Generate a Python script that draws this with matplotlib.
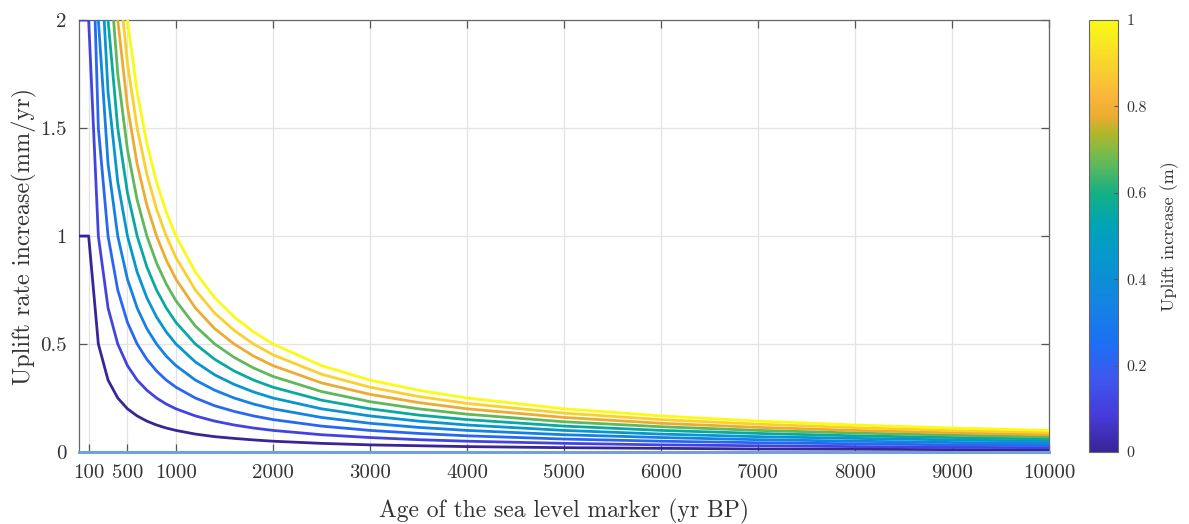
import matplotlib
matplotlib.use('Agg')
import matplotlib.pyplot as plt
from matplotlib.colors import LinearSegmentedColormap
from matplotlib.cm import ScalarMappable
from matplotlib.colors import Normalize

plt.rcParams['font.family'] = ['cmr10', 'DejaVu Serif']
plt.rcParams['axes.formatter.use_mathtext'] = True

# Datos
uplift = [0.1, 0.2, 0.3, 0.4, 0.5, 0.6, 0.7, 0.8, 0.9, 1.0]
ages = [0, 100, 200, 300, 400, 500, 600, 700, 800, 900, 1000, 1200, 1400, 1600, 1800,
        2000, 2500, 3000, 3500, 4000, 5000, 6000, 7000, 8000, 9000, 10000]

rate_01 = [1, 1, .5, .333, .25, .2, .167, .143, .125, .111, .1, .083, .071, .063, .056,
           .05, .04, .033, .029, .025, .02, .017, .014, .013, .011, .01]
rate_02 = [2, 2, 1, .667, .5, .4, .333, .286, .25, .222, .2, .167, .143, .125, .111,
           .1, .08, .067, .057, .05, .04, .033, .029, .025, .022, .02]
rate_03 = [3, 3, 1.5, 1, .75, .6, .5, .429, .375, .333, .3, .25, .214, .188, .167,
           .15, .12, .1, .086, .075, .06, .05, .043, .038, .033, .03]
rate_04 = [4, 4, 2, 1.333, 1, .8, .667, .571, .5, .444, .4, .333, .286, .25, .222,
           .2, .16, .133, .114, .1, .08, .067, .057, .05, .044, .04]
rate_05 = [5, 5, 2.5, 1.667, 1.25, 1, .833, .714, .625, .556, .5, .417, .357, .313, .278,
           .25, .2, .167, .143, .125, .1, .083, .071, .063, .056, .05]
rate_06 = [6, 6, 3, 2, 1.5, 1.2, 1, .857, .75, .667, .6, .5, .429, .375, .333,
           .3, .24, .2, .171, .15, .12, .1, .086, .075, .067, .06]
rate_07 = [7, 7, 3.5, 2.333, 1.75, 1.4, 1.167, 1, .875, .778, .7, .583, .5, .438, .389,
           .35, .28, .233, .2, .175, .14, .117, .1, .088, .078, .07]
rate_08 = [8, 8, 4, 2.667, 2, 1.6, 1.333, 1.143, 1, .889, .8, .667, .571, .5, .444,
           .4, .32, .267, .229, .2, .16, .133, .114, .1, .089, .08]
rate_09 = [9, 9, 4.5, 3, 2.25, 1.8, 1.5, 1.286, 1.125, 1, .9, .75, .643, .563, .5,
           .45, .36, .3, .257, .225, .18, .15, .129, .113, .1, .09]
rate_10 = [10, 10, 5, 3.333, 2.5, 2, 1.667, 1.429, 1.25, 1.111, 1, .833, .714, .625, .556,
           .5, .4, .333, .286, .25, .2, .167, .143, .125, .111, .1]
rates = [rate_01, rate_02, rate_03, rate_04, rate_05, rate_06, rate_07, rate_08, rate_09, rate_10]

xticks = [100, 500, 1000, 2000, 3000, 4000, 5000, 6000, 7000, 8000, 9000, 10000]
yticks = [0, 0.5, 1, 1.5, 2]
cticks = [0, 0.2, 0.4, 0.6, 0.8, 1]

# Mapa de color tipo parula
parula_pts = [
    (0.00, (58, 36, 150)), (0.08, (70, 58, 215)), (0.17, (62, 88, 238)),
    (0.25, (28, 112, 245)), (0.35, (20, 132, 225)), (0.43, (8, 148, 208)),
    (0.52, (0, 162, 185)), (0.60, (20, 176, 132)), (0.68, (110, 186, 82)),
    (0.74, (178, 182, 42)), (0.78, (236, 172, 50)), (0.82, (250, 180, 60)),
    (0.90, (250, 212, 45)), (1.00, (249, 251, 20)),
]
parula = LinearSegmentedColormap.from_list(
    'parula', [(p, tuple(c / 255 for c in col)) for p, col in parula_pts])

fig = plt.figure(figsize=(11.89, 5.24), dpi=100)
ax = fig.add_axes([0.0664, 0.1374, 0.8158, 0.8244])

n = len(uplift)
for i, (u, r) in enumerate(zip(uplift, rates)):
    ax.plot(ages, r, color=parula(i / (n - 1)), linewidth=2.0, zorder=3)

# linea base en cero
ax.plot([ages[0], ages[-1]], [0, 0], color='#6fa3d6', linewidth=2.2, zorder=4, clip_on=False)

ax.set_xlim(0, 10000)
ax.set_ylim(0, 2)
ax.set_xticks(xticks)
ax.set_xticklabels([str(t) for t in xticks])
ax.set_yticks(yticks)
ax.set_yticklabels(['0', '0.5', '1', '1.5', '2'])
ax.grid(True, color='#e3e3e3', linewidth=0.9)
ax.set_axisbelow(True)
ax.tick_params(direction='in', length=6, width=0.9, color='#555555', labelsize=15,
               labelcolor='#333333', top=True, right=True, pad=9)
for s in ax.spines.values():
    s.set_color('#666666')
    s.set_linewidth(0.9)
ax.set_xlabel('Age of the sea level marker (yr BP)', fontsize=17, color='#333333', labelpad=12)
ax.set_ylabel('Uplift rate increase(mm/yr)', fontsize=17.5, color='#333333', labelpad=2)

cax = fig.add_axes([0.9159, 0.1374, 0.0244, 0.8244])
sm = ScalarMappable(norm=Normalize(0, 1), cmap=parula)
cb = fig.colorbar(sm, cax=cax, ticks=cticks)
cb.ax.set_yticklabels(['0', '0.2', '0.4', '0.6', '0.8', '1'])
cb.ax.tick_params(direction='in', length=3, width=0.8, labelsize=11.5, color='#555555',
                  labelcolor='#333333', pad=6)
cb.outline.set_edgecolor('#666666')
cb.outline.set_linewidth(0.8)
cb.set_label('Uplift increase (m)', fontsize=13, color='#333333', labelpad=10)

fig.savefig('out.png', dpi=100)
